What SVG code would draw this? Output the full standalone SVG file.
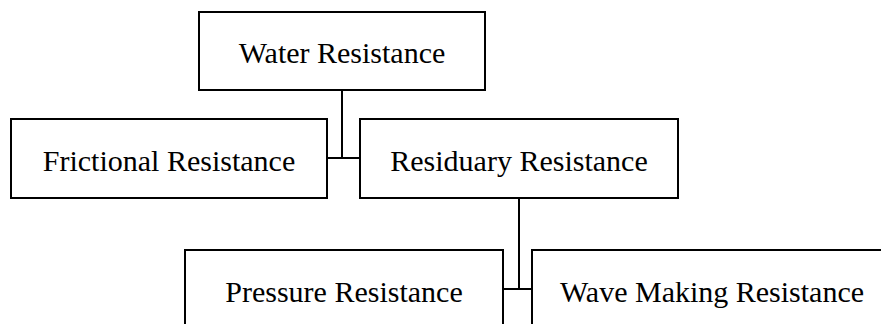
<svg xmlns="http://www.w3.org/2000/svg" width="881" height="324" viewBox="0 0 881 324">
<style>
.box{fill:#fff;stroke:#000;stroke-width:2}
.lbl{font-family:"Liberation Serif","Times New Roman",serif;font-size:30px;fill:#000;text-anchor:middle}
.con{fill:none;stroke:#000;stroke-width:2}
</style>
<rect width="881" height="324" fill="#fff"/>
<g id="connectors">
<path class="con" d="M342 90V158M327 158H360"/>
<path class="con" d="M519 198V289M503 289H532"/>
</g>
<g id="water">
<rect class="box" x="199" y="12" width="286" height="78"/>
<text class="lbl" x="342" y="63">Water Resistance</text>
</g>
<g id="frictional">
<rect class="box" x="11" y="119" width="316" height="79"/>
<text class="lbl" x="169" y="171">Frictional Resistance</text>
</g>
<g id="residuary">
<rect class="box" x="360" y="119" width="318" height="79"/>
<text class="lbl" x="519" y="171">Residuary Resistance</text>
</g>
<g id="pressure">
<rect class="box" x="185" y="250" width="318" height="90"/>
<text class="lbl" x="344" y="302">Pressure Resistance</text>
</g>
<g id="wave">
<rect class="box" x="532" y="250" width="360" height="90"/>
<text class="lbl" x="712" y="302">Wave Making Resistance</text>
</g>
</svg>
